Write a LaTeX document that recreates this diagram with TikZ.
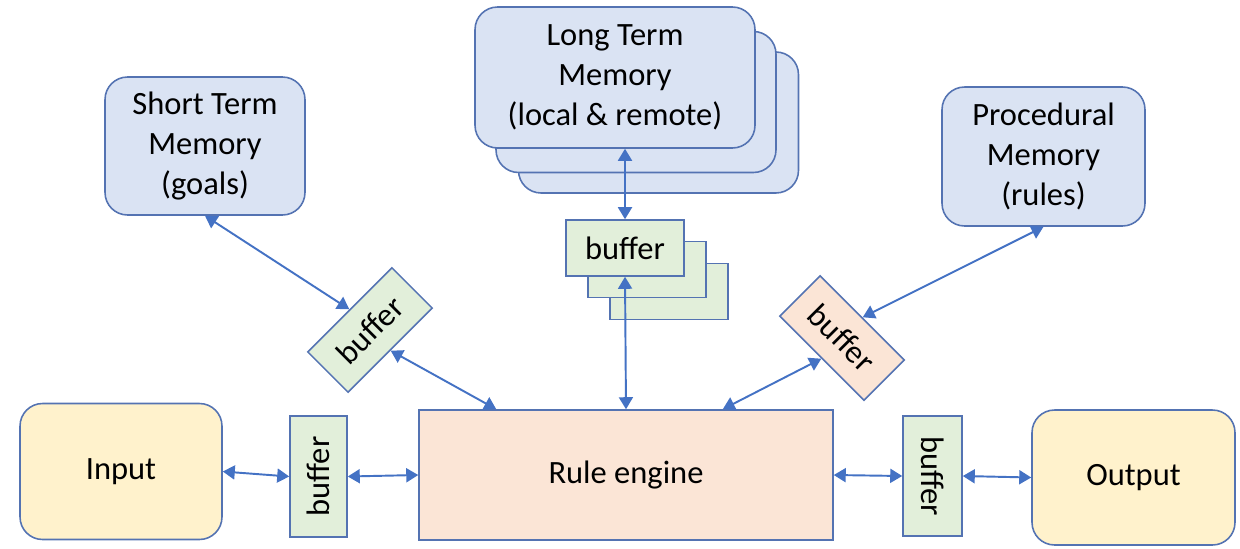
\documentclass[tikz,border=0pt]{standalone}
\usepackage{fontspec}
\setmainfont{Carlito}
\usetikzlibrary{arrows.meta,calc}
\definecolor{bordc}{RGB}{84,115,178}
\definecolor{arrc}{RGB}{68,114,196}
\definecolor{memfill}{RGB}{218,227,243}
\definecolor{buffill}{RGB}{226,239,218}
\definecolor{rulefill}{RGB}{251,229,214}
\definecolor{iofill}{RGB}{255,242,204}
\tikzset{
  box/.style={draw=bordc, line width=0.9pt, align=center, inner sep=0pt,
    font=\fontsize{18.5}{22.7}\selectfont},
  mem/.style={box, fill=memfill, rounded corners=0.45cm},
  io/.style={box, fill=iofill, rounded corners=0.45cm, minimum width=4.04cm, minimum height=2.72cm},
  bufbox/.style={box, fill=buffill},
  arr/.style={draw=arrc, line width=1.1pt, {Triangle[length=0.24cm,width=0.28cm]}-{Triangle[length=0.24cm,width=0.28cm]}},
}
\begin{document}
\begin{tikzpicture}[x=0.02cm,y=-0.02cm]
\useasboundingbox (0,0) rectangle (1240,548);
% memories
\node[mem, minimum width=4cm, minimum height=2.76cm] (stm) at (205,146) {Short Term\\Memory\\(goals)};
\node[mem, minimum width=5.6cm, minimum height=2.82cm] (ltm3) at (658.5,122.5) {};
\node[mem, minimum width=5.6cm, minimum height=2.82cm] (ltm2) at (636,102) {};
\node[mem, minimum width=5.6cm, minimum height=2.82cm] (ltm1) at (615,77.5) {Long Term\\Memory\\(local \& remote)};
\node[mem, minimum width=4.06cm, minimum height=2.78cm] (pm) at (1043.5,156.5) {Procedural\\Memory\\(rules)};
% buffer stack
\node[bufbox, minimum width=2.36cm, minimum height=1.12cm] (buf3) at (669,291.5) {};
\node[bufbox, minimum width=2.36cm, minimum height=1.12cm] (buf2) at (647,269.5) {};
\node[bufbox, minimum width=2.36cm, minimum height=1.12cm] (buf1) at (625,248) {buffer};
% rotated buffers
\node[bufbox, minimum width=2.38cm, minimum height=1.14cm, rotate=45] (bl) at (370,330) {buffer};
\node[box, fill=rulefill, minimum width=2.38cm, minimum height=1.14cm, rotate=-45] (br) at (842,338) {buffer};
% bottom row
\node[io] (inp) at (121,471.5) {Input};
\node[bufbox, minimum width=1.14cm, minimum height=2.42cm] (bufL) at (318.5,476.5) {\rotatebox{90}{buffer}};
\node[box, fill=rulefill, minimum width=8.28cm, minimum height=2.6cm] (re) at (626,475) {Rule engine};
\node[bufbox, minimum width=1.18cm, minimum height=2.4cm] (bufR) at (932.5,476) {\rotatebox{-90}{buffer}};
\node[io, minimum width=4.06cm, minimum height=2.7cm] (out) at (1133.5,477.5) {Output};
% connectors
\coordinate (relt) at ([xshift=1.56cm]re.north west);
\coordinate (rert) at ([xshift=-2.22cm]re.north east);
\draw[arr] (stm.south) -- (bl.north);
\draw[arr] (bl.south) -- (relt);
\draw[arr] (ltm1.south -| buf1.north) -- (buf1.north);
\draw[arr] (re.north) -- (buf1.south);
\draw[arr] (pm.south) -- (br.north);
\draw[arr] (br.south) -- (rert);
\draw[arr] (inp.east) -- (bufL.west);
\draw[arr] (bufL.east) -- (re.west);
\draw[arr] (re.east) -- (bufR.west);
\draw[arr] (bufR.east) -- (out.west);
\end{tikzpicture}
\end{document}
